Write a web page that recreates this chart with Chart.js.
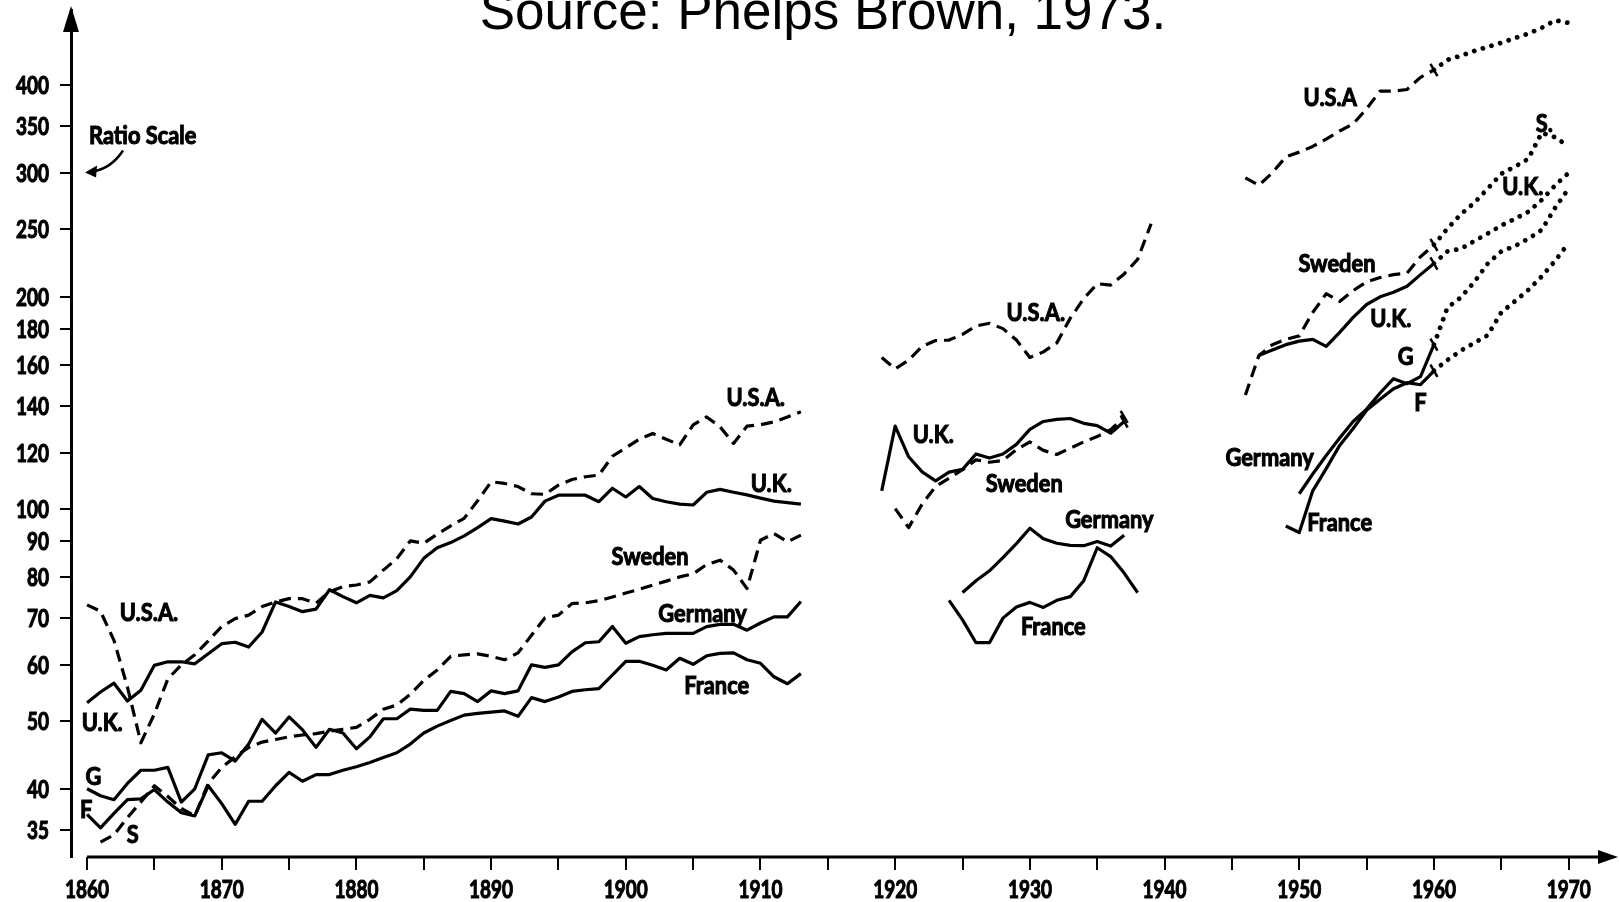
<!DOCTYPE html>
<html>
<head>
<meta charset="utf-8">
<title>Wage earnings, ratio scale</title>
<script src="https://cdn.jsdelivr.net/npm/chart.js@4.4.1/dist/chart.umd.min.js"></script>
<style>
  html, body { margin: 0; padding: 0; background: #fff; overflow: hidden; }
  #wrap { position: relative; width: 1619px; height: 902px; }
</style>
</head>
<body>
<div id="wrap"><canvas id="wages-chart"></canvas></div>
<script>
function range(first, last, step) {
    let out = []
    for (let v = first; v <= last; v += (step || 1)) out.push(v)
    return out
}

// years for each period of the chart
let preYears = range(1860, 1913)
let interYears = range(1919, 1939)
let postYears = range(1946, 1970)

// axis ticks
let yTicks = [35, 40, 50, 60, 70, 80, 90, 100, 120, 140, 160, 180, 200, 250, 300, 350, 400]
let xTicks = range(1860, 1970, 5)
let xLabels = range(1860, 1970, 10)

// 1860 - 1913
let usaPre = [73, 71.5, 65, 55.8, 46.5, 51.1, 57.3, 60, 62, 64.9,
    68, 69.8, 70.6, 72.6, 73.7, 74.5, 74.5, 73.4, 76.2, 77.5,
    77.9, 78.7, 81.8, 84.9, 90, 89.3, 92, 94.5, 96.9, 102.6,
    109.2, 108.6, 107.5, 105, 104.8, 108, 110, 111, 111.6, 118.7,
    122, 125.5, 127.9, 125.5, 123.2, 131.5, 135, 130.7, 123.8, 131,
    131.6, 132.8, 135, 137.3]
let ukPre = [53, 54.9, 56.5, 53.3, 55.2, 59.9, 60.6, 60.6, 60.2, 62.2,
    64.3, 64.6, 63.6, 66.8, 73.7, 72.6, 71.4, 72, 76.7, 75,
    73.5, 75.3, 74.7, 76.5, 80, 85, 88, 89.5, 91.5, 94,
    96.8, 96, 95.1, 97.3, 102.5, 104.5, 104.5, 104.5, 102.3, 106.9,
    103.9, 107.5, 103.4, 102.3, 101.5, 101.2, 105.5, 106.5, 105.5, 104.6,
    103.5, 102.5, 102, 101.5]
let swedenPre = [null, 33.6, 34.4, 36.4, 38.3, 40.4, 39, 37.5, 36.6, 40.7,
    42.9, 44.4, 45.8, 46.6, 47, 47.4, 47.7, 47.9, 48.3, 48.6,
    48.9, 50.2, 51.9, 52.6, 54.5, 57, 59, 61.7, 62, 62.2,
    61.7, 61, 62.4, 66.1, 70, 70.6, 73.3, 73.5, 74, 74.9,
    75.9, 76.8, 77.9, 78.9, 80, 80.8, 83.3, 84.5, 81.8, 77,
    90.2, 92.2, 89.7, 91.7]
let germanyPre = [40, 39.1, 38.6, 40.7, 42.5, 42.5, 42.9, 38.3, 40, 44.7,
    45, 43.8, 46.3, 50.2, 48, 50.6, 48.5, 45.8, 48.6, 48,
    45.6, 47.4, 50.3, 50.3, 51.9, 51.7, 51.7, 55, 54.6, 53.2,
    55.1, 54.6, 55.1, 60, 59.5, 60, 62.6, 64.5, 64.7, 68,
    64.4, 65.8, 66.2, 66.5, 66.5, 66.5, 68, 68.5, 68.5, 67.2,
    68.8, 70.2, 70.2, 73.8]
let francePre = [36.8, 35.2, 36.9, 38.6, 38.7, 39.9, 38.3, 37, 36.6, 40.4,
    38.1, 35.6, 38.4, 38.4, 40.4, 42.2, 41, 41.9, 41.9, 42.5,
    43, 43.6, 44.3, 45, 46.3, 48, 49.1, 50, 50.9, 51.2,
    51.4, 51.6, 50.7, 53.9, 53.2, 54, 55, 55.3, 55.5, 58,
    60.7, 60.7, 59.9, 59, 61.3, 60.1, 61.8, 62.3, 62.4, 61,
    60.3, 57.7, 56.4, 58.3]

// 1919 - 1939
let usaInter = [164, 158, 162.6, 170, 173.3, 173.6, 176.8, 181.8, 183.4, 180.2,
    173.6, 164, 167, 172, 186.5, 198.8, 208.7, 207.8, 215.5, 226, 254]
let ukInter = [106, 131, 118.5, 112.8, 109.5, 112.7, 113.7, 119.6, 118, 119.6,
    123.4, 129.6, 133, 133.9, 134.3, 132.2, 131.2, 128, 133, null, null]
let swedenInter = [null, 100, 94, 101.5, 107.5, 110.5, 113.6, 117.3, 116.4, 117.1,
    121.3, 124.4, 121, 119.4, 121.9, 124.4, 126.6, 129.5, 135, null, null]
let germanyInter = [null, null, null, null, null, null, 76, 79, 81.6, 85.2,
    89.2, 93.8, 90.6, 89.3, 88.7, 88.6, 89.8, 88.5, 91.7, null, null]
let franceInter = [null, null, null, null, null, 74.1, 69.5, 64.5, 64.5, 69.9,
    72.5, 73.6, 72.4, 74.1, 75, 79, 88, 85.5, 81, 76, null]

// 1946 - 1970 (after 1960 drawn dotted)
let usaPost = [295, 288, 300, 316, 321, 327, 335, 344, 352, 370,
    392, 392, 394, 410, 420, 434, 440, 447, 453, 459,
    466, 473, 482, 494, 490]
let ukPost = [null, 165, 168, 171, 173, 174, 170, 178, 187, 195,
    200, 203, 207, 215, 223, 232, 234, 240, 246, 252.5,
    258, 264, 274.5, 288, 300]
let swedenPost = [145, 165, 171, 174, 176, 190, 202, 197, 204, 210,
    213, 215, 216, 228, 237, 250, 262, 272, 285, 299,
    306, 314, 342, 337, 327]
let germanyPost = [null, null, null, null, 105, 112, 119, 126, 133, 138.5,
    146, 153, 150.5, 154, 171, 193, 199.6, 210, 223, 232,
    236, 241.7, 249, 267.6, 285]
let francePost = [null, null, null, 94.5, 92.5, 106, 114, 123, 130, 138,
    143, 148, 151, 150, 157, 162.6, 167.7, 172, 176.4, 190,
    197, 204.5, 213.8, 225, 238.5]

// years where a series carries a small cross-stroke
let usaMarks = [1960]
let ukMarks = [1937, 1960]
let swedenMarks = [1937, 1960]
let germanyMarks = [1960]
let franceMarks = [1960]

// hand lettered names beside the curves, placed in data units
let seriesNotes = [
    { text: 'U.S.A.', x: 1864.6, y: 71.4 },
    { text: 'U.K.', x: 1859.6, y: 49.8, align: 'left' },
    { text: 'G', x: 1860.47, y: 41.7 },
    { text: 'F', x: 1859.94, y: 37.5 },
    { text: 'S', x: 1863.4, y: 34.5 },
    { text: 'U.S.A.', x: 1909.65, y: 144.2 },
    { text: 'U.K.', x: 1910.8, y: 108.9 },
    { text: 'Sweden', x: 1901.8, y: 85.7 },
    { text: 'Germany', x: 1905.7, y: 71.2 },
    { text: 'France', x: 1906.75, y: 56.1 },
    { text: 'U.S.A.', x: 1930.44, y: 190.5 },
    { text: 'U.K.', x: 1922.83, y: 127.6 },
    { text: 'Sweden', x: 1929.58, y: 108.9 },
    { text: 'Germany', x: 1935.9, y: 96.6 },
    { text: 'France', x: 1931.74, y: 68.1 },
    { text: 'U.S.A', x: 1952.3, y: 384 },
    { text: 'S.', x: 1968.2, y: 353 },
    { text: 'U.K.', x: 1966.6, y: 287.5 },
    { text: 'Sweden', x: 1952.8, y: 223 },
    { text: 'U.K.', x: 1956.8, y: 186.6 },
    { text: 'G', x: 1957.9, y: 164.9 },
    { text: 'F', x: 1959.0, y: 141.8 },
    { text: 'Germany', x: 1947.8, y: 118.4 },
    { text: 'France', x: 1953.0, y: 95.7 },
    { text: 'Ratio Scale', x: 1860.15, y: 340, align: 'left', arrow: true }
]

let handFont = 'Lato, "Open Sans", "DejaVu Sans", sans-serif'
let handSize = 25

function toPoints(periods) {
    let points = []
    periods.forEach(function (period, i) {
        let years = period[0], values = period[1]
        if (i > 0) points.push({ x: years[0] - 0.5, y: null }) // gap between periods
        years.forEach(function (year, j) {
            points.push({ x: year, y: values[j] })
        })
    })
    return points
}

function isDotted(ctx) {
    return ctx.p0.parsed.x >= 1960
}

function countryDataset(name, periods, dashed, marks) {
    let markRadius = function (ctx) {
        return ctx.raw && marks.indexOf(ctx.raw.x) >= 0 ? 7 : 0
    }
    return {
        label: name,
        data: toPoints(periods),
        borderColor: '#000',
        borderWidth: 3.2,
        borderDash: dashed ? [12, 7] : [],
        borderCapStyle: 'butt',
        borderJoinStyle: 'round',
        fill: false,
        tension: 0,
        spanGaps: false,
        pointStyle: 'line',
        pointRotation: 60,
        pointBorderColor: '#000',
        pointBorderWidth: 2.5,
        pointRadius: markRadius,
        pointHoverRadius: markRadius,
        segment: {
            borderDash: ctx => isDotted(ctx) ? [0.01, 9] : undefined,
            borderWidth: ctx => isDotted(ctx) ? 4.8 : undefined,
            borderCapStyle: ctx => isDotted(ctx) ? 'round' : undefined
        }
    }
}

// narrow heavy lettering like the scan: squeeze the bold face sideways
function narrowText(ctx, text, x, y, align, squeeze) {
    ctx.save()
    ctx.translate(x, y)
    ctx.scale(squeeze, 1)
    ctx.textAlign = align
    ctx.lineWidth = 1.1
    ctx.strokeText(text, 0, 0)
    ctx.fillText(text, 0, 0)
    ctx.restore()
}

// title, axis arrows, axis numbers and the curve names
let decorations = {
    id: 'decorations',
    afterDraw(chart) {
        let ctx = chart.ctx
        let xs = chart.scales.x, ys = chart.scales.y
        let area = chart.chartArea
        ctx.save()
        ctx.fillStyle = '#000'
        ctx.strokeStyle = '#000'

        // source line, cut by the top edge like the scan
        ctx.font = '53px "Liberation Sans", Arial, sans-serif'
        ctx.textAlign = 'center'
        ctx.textBaseline = 'alphabetic'
        ctx.fillText('Source: Phelps Brown, 1973.', 823, 29)

        // x axis starts at 1860 and ends in an arrow
        let x0 = xs.getPixelForValue(1860)
        ctx.lineWidth = 3
        ctx.beginPath()
        ctx.moveTo(x0, area.bottom)
        ctx.lineTo(area.right - 8, area.bottom)
        ctx.stroke()
        ctx.beginPath()
        ctx.moveTo(area.right + 8, area.bottom)
        ctx.lineTo(area.right - 12, area.bottom - 7)
        ctx.lineTo(area.right - 12, area.bottom + 7)
        ctx.closePath()
        ctx.fill()

        // y axis arrow head
        let yx = area.left
        ctx.beginPath()
        ctx.moveTo(yx, area.top - 4)
        ctx.lineTo(yx - 8, area.top + 22)
        ctx.lineTo(yx + 8, area.top + 22)
        ctx.closePath()
        ctx.fill()

        ctx.font = 'bold ' + handSize + 'px ' + handFont
        ctx.textBaseline = 'alphabetic'
        let capShift = handSize * 0.36
        let tickSqueeze = 44 / ctx.measureText('1860').width
        let noteSqueeze = 77 / ctx.measureText('Sweden').width

        // axis numbers
        yTicks.forEach(function (v) {
            narrowText(ctx, String(v), area.left - 22, ys.getPixelForValue(v) + capShift, 'right', tickSqueeze)
        })
        xLabels.forEach(function (v) {
            narrowText(ctx, String(v), xs.getPixelForValue(v), area.bottom + 32 + capShift, 'center', tickSqueeze)
        })

        // names next to the curves
        seriesNotes.forEach(function (note) {
            let px = xs.getPixelForValue(note.x)
            let py = ys.getPixelForValue(note.y)
            narrowText(ctx, note.text, px, py + capShift, note.align || 'center', noteSqueeze)
            if (note.arrow) {
                // curved pointer down to the axis
                ctx.lineWidth = 2.5
                ctx.beginPath()
                ctx.moveTo(px + 34, py + 16)
                ctx.quadraticCurveTo(px + 22, py + 34, px + 4, py + 37)
                ctx.stroke()
                ctx.beginPath()
                ctx.moveTo(px - 4, py + 38)
                ctx.lineTo(px + 8, py + 31)
                ctx.lineTo(px + 7, py + 43)
                ctx.closePath()
                ctx.fill()
            }
        })
        ctx.restore()
    }
}

let chartCanvas = document.querySelector('#wages-chart')

let wagesChart = new Chart(chartCanvas.getContext('2d'), {
    type: 'line',
    data: {
        datasets: [
            countryDataset('U.S.A.', [[preYears, usaPre], [interYears, usaInter], [postYears, usaPost]], true, usaMarks),
            countryDataset('U.K.', [[preYears, ukPre], [interYears, ukInter], [postYears, ukPost]], false, ukMarks),
            countryDataset('Sweden', [[preYears, swedenPre], [interYears, swedenInter], [postYears, swedenPost]], true, swedenMarks),
            countryDataset('Germany', [[preYears, germanyPre], [interYears, germanyInter], [postYears, germanyPost]], false, germanyMarks),
            countryDataset('France', [[preYears, francePre], [interYears, franceInter], [postYears, francePost]], false, franceMarks)
        ]
    },
    options: {
        responsive: true,
        maintainAspectRatio: false,
        animation: false,
        events: [],
        layout: { padding: { top: 10, right: 9, left: 0, bottom: 0 } },
        plugins: {
            legend: { display: false },
            tooltip: { enabled: false }
        },
        scales: {
            x: {
                type: 'linear',
                min: 1858.81,
                max: 1973.07,
                afterBuildTicks: s => { s.ticks = xTicks.map(v => ({ value: v })) },
                afterFit: s => { s.height = 45; s.paddingLeft = 0; s.paddingRight = 0 },
                border: { display: false },
                grid: { drawOnChartArea: false, drawTicks: true, tickLength: 13, color: '#000', lineWidth: 2 },
                ticks: { display: false, autoSkip: false }
            },
            y: {
                type: 'logarithmic',
                min: 32.0,
                max: 511,
                afterBuildTicks: s => { s.ticks = yTicks.map(v => ({ value: v })) },
                afterFit: s => { s.width = 71; s.paddingTop = 0; s.paddingBottom = 0 },
                border: { display: true, color: '#000', width: 3 },
                grid: { drawOnChartArea: false, drawTicks: true, tickLength: 11, color: '#000', lineWidth: 2 },
                ticks: { display: false, autoSkip: false }
            }
        }
    },
    plugins: [decorations]
})
</script>
</body>
</html>
